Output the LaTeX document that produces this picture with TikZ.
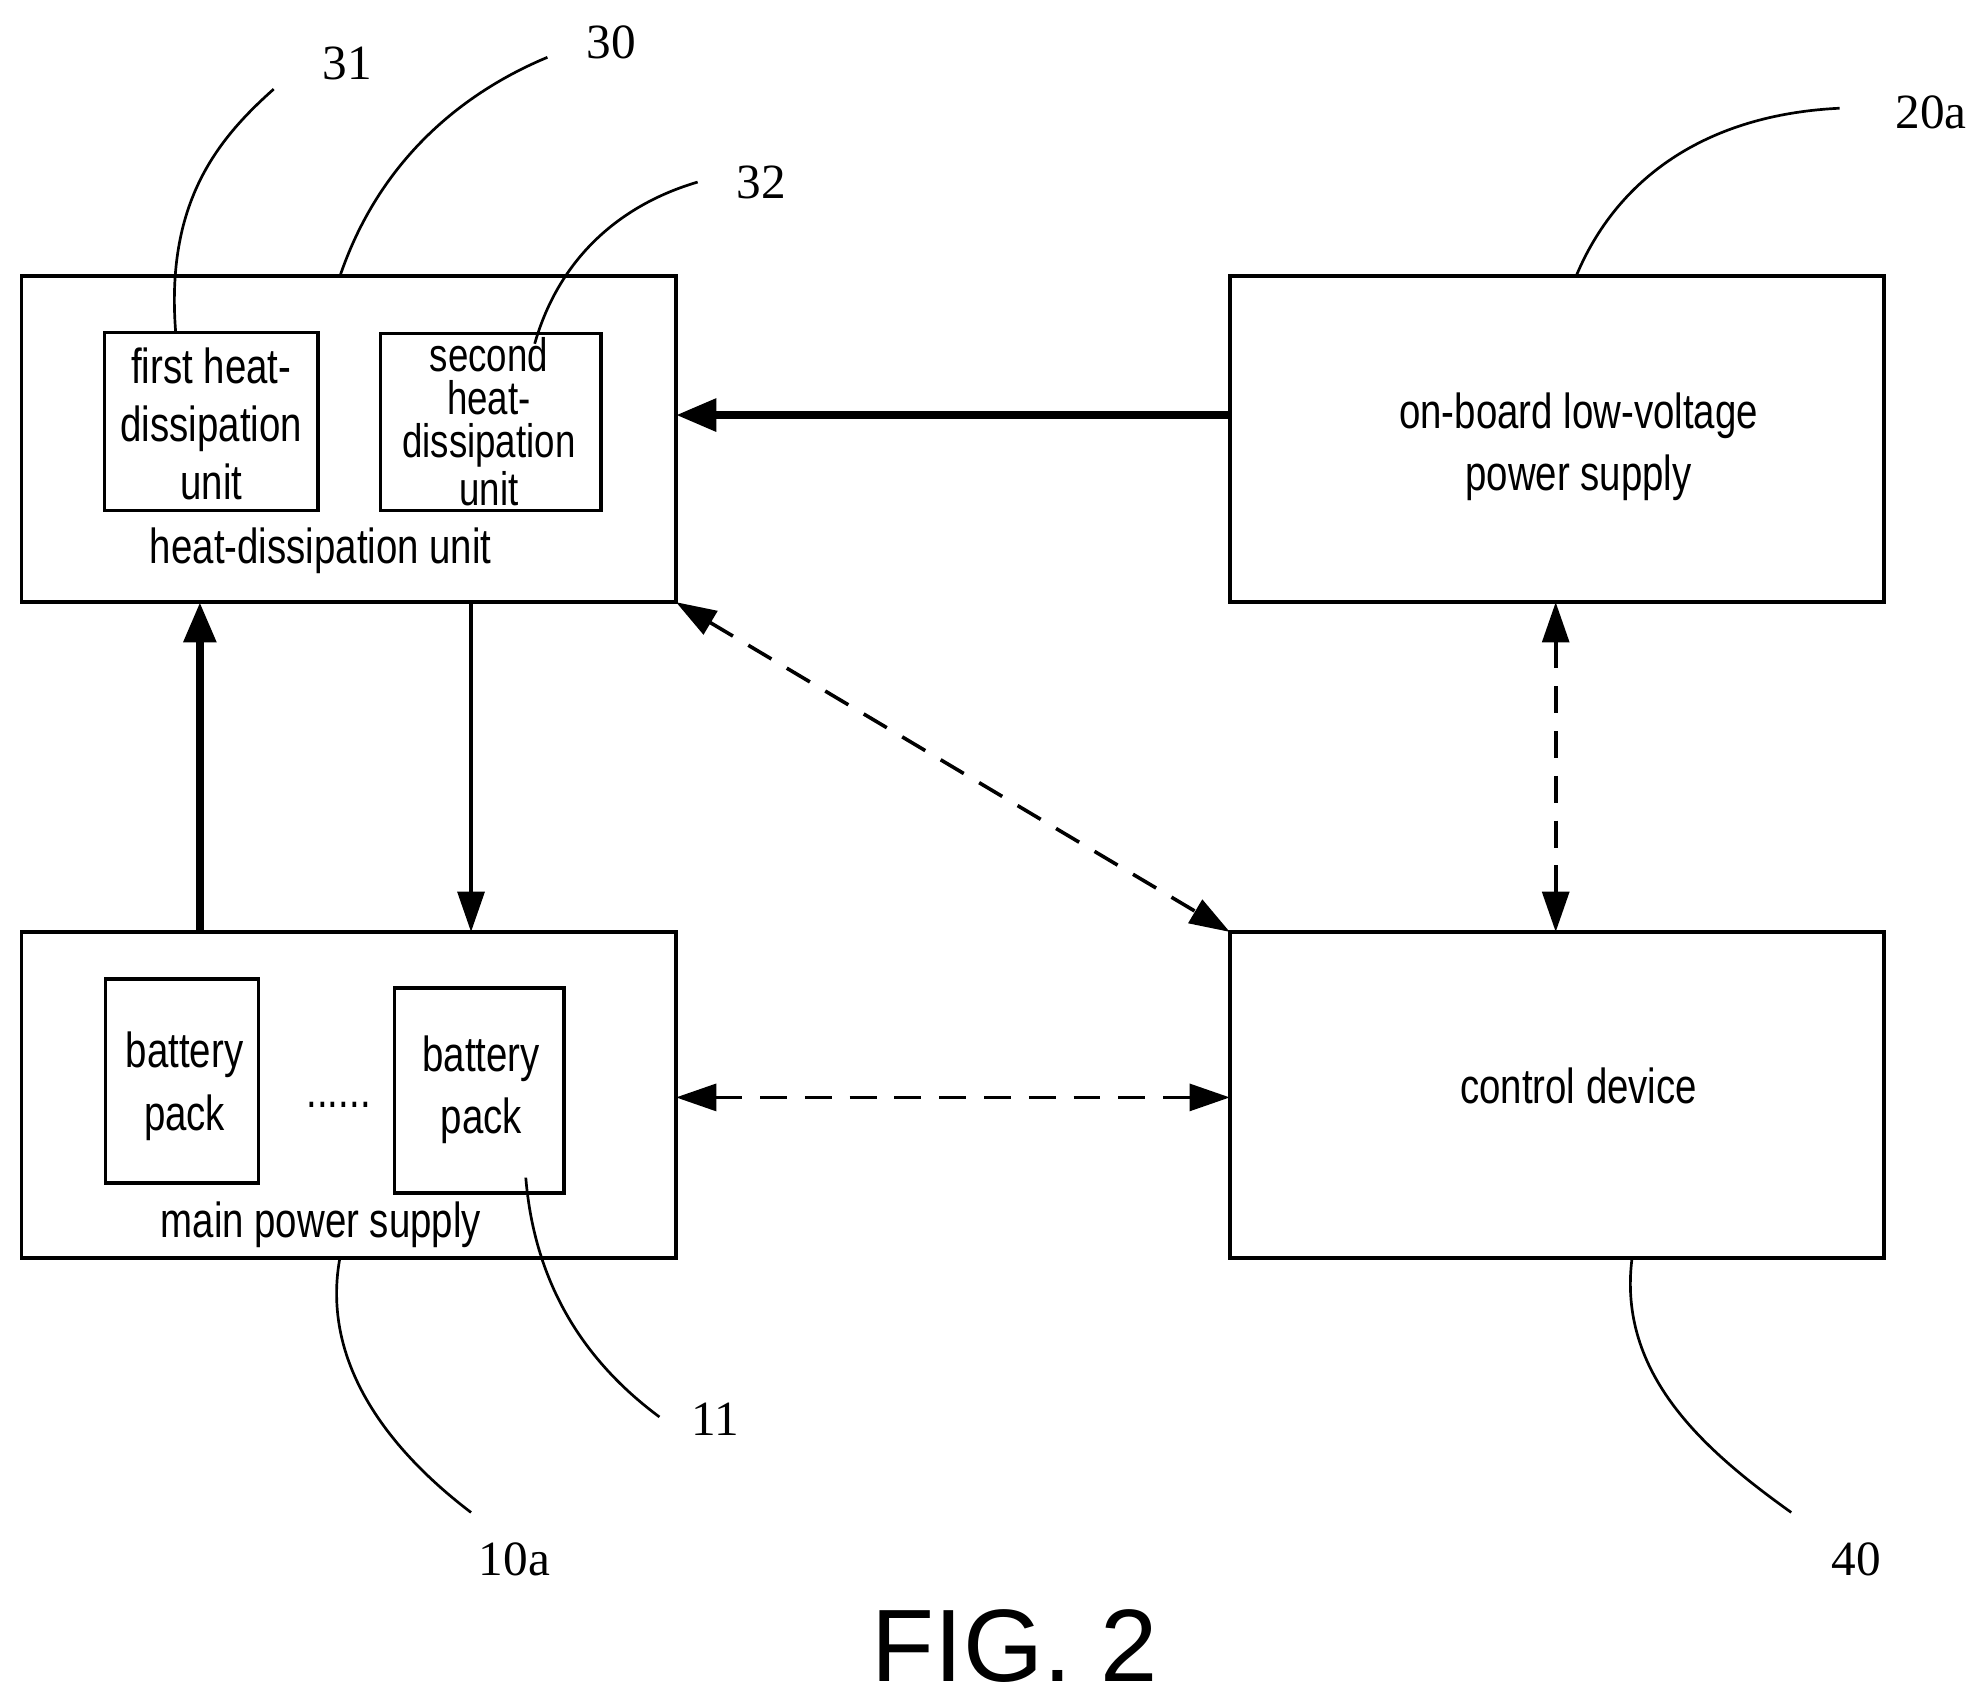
\documentclass[tikz,border=0pt]{standalone}
\usepackage{fontspec}
\setmainfont{Liberation Serif}
\newfontfamily\cond[FakeStretch=0.78]{Liberation Sans}
\newfontfamily\figf{Liberation Sans}
\usetikzlibrary{arrows.meta}
\begin{document}
\begin{tikzpicture}[x=0.01cm,y=-0.01cm,
 box/.style={draw,line width=0.8pt},
 lbl/.style={font=\cond\fontsize{11}{13}\selectfont,align=center},
 num/.style={font=\fontsize{11}{12}\selectfont},
 lead/.style={line width=0.6pt},
 thick arr/.style={line width=1.8pt,-{Triangle[length=9pt,width=7pt]}},
 thin arr/.style={line width=0.8pt,-{Triangle[length=9pt,width=6pt]}},
 dash arr/.style={line width=0.8pt,dash pattern=on 6pt off 4pt,{Triangle[length=9pt,width=6pt]}-{Triangle[length=9pt,width=6pt]}}]
\useasboundingbox (0,0) rectangle (1560,1335);
\draw[box] (17,217) rectangle (531,473);
\draw[box] (82,261) rectangle (250,401);
\draw[box] (299,262) rectangle (472,401);
\draw[box] (966,217) rectangle (1480,473);
\draw[box] (17,732) rectangle (531,988);
\draw[box] (83,769) rectangle (203,929);
\draw[box] (310,776) rectangle (443,937);
\draw[box] (966,732) rectangle (1480,988);
\node[lbl] (t31) at (166,333) {first heat-\\dissipation\\unit};
\node[lbl,font=\cond\fontsize{10.5}{9.6}\selectfont] (t32) at (384,331) {second\\heat-\\dissipation\\unit};
\node[lbl] (t30) at (252,433) {heat-dissipation unit};
\node[lbl] (t20) at (1240,351) {on-board low-voltage\\[1pt]power supply};
\node[lbl] (tb1) at (145,853) {battery\\[1pt]pack};
\node[lbl] (tb2) at (378,856) {battery\\[1pt]pack};
\node[lbl] (dots) at (266,868) {......};
\node[lbl] (t10) at (252,962) {main power supply};
\node[lbl] (t40) at (1240,853) {control device};
\node[num] (n31) at (273,50) {31};
\node[num] (n30) at (480,33) {30};
\node[num] (n32) at (598,143) {32};
\node[num] (n20) at (1517,88) {20a};
\node[num] (n10) at (404,1225) {10a};
\node[num] (n11) at (562,1115) {11};
\node[num] (n40) at (1458,1225) {40};
\node[font=\figf\fontsize{23}{26}\selectfont] (fig) at (797,1293) {FIG. 2};
\draw[lead] (138,261) .. controls (130,160) and (170,110) .. (215,70);
\draw[lead] (267,217) .. controls (300,120) and (370,70) .. (430,45);
\draw[lead] (420,270) .. controls (440,200) and (490,160) .. (548,143);
\draw[lead] (1238,217) .. controls (1270,140) and (1340,90) .. (1445,85);
\draw[lead] (267,988) .. controls (250,1080) and (320,1150) .. (370,1188);
\draw[lead] (413,925) .. controls (420,1010) and (460,1070) .. (518,1113);
\draw[lead] (1282,988) .. controls (1270,1080) and (1340,1140) .. (1407,1188);
\draw[thick arr] (966,326) -- (531,326);
\draw[thick arr] (157,732) -- (157,473);
\draw[thin arr] (370,473) -- (370,732);
\draw[dash arr] (531,473) -- (966,732);
\draw[dash arr] (1222,473) -- (1222,732);
\draw[dash arr] (531,862) -- (966,862);
\end{tikzpicture}
\end{document}
